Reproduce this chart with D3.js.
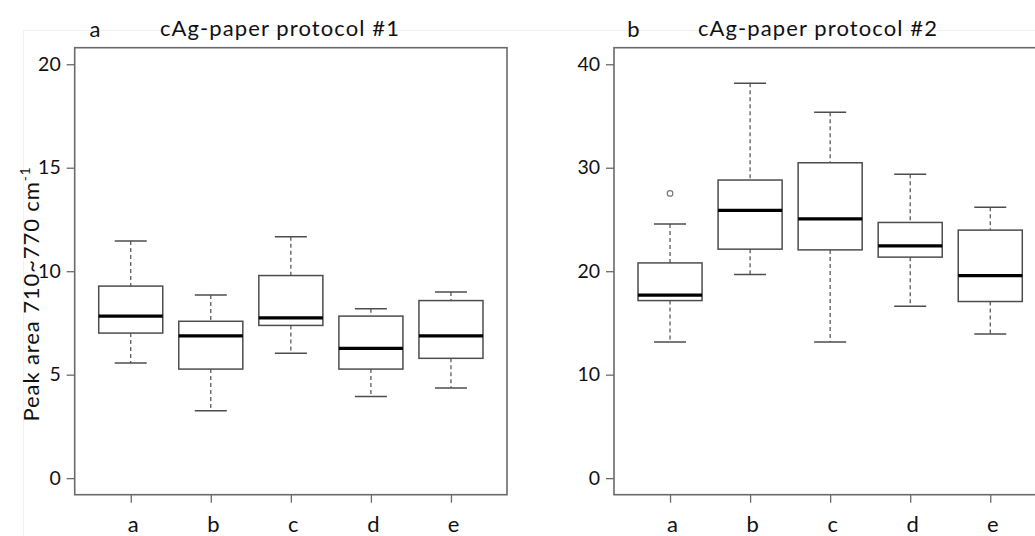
<!DOCTYPE html>
<html>
<head>
<meta charset="utf-8">
<script src="https://cdn.jsdelivr.net/npm/d3@7"></script>
<style>
  html, body { margin: 0; padding: 0; background: #fff; }
  svg { display: block; }
  text { font-family: Lato, "Open Sans", sans-serif; fill: #111; }
</style>
</head>
<body>
<svg id="chart" width="1035" height="536"></svg>
<script>
// ---------- data ----------
const categories = ["a", "b", "c", "d", "e"];

// Panel a: cAg-paper protocol #1
const p1LowWhisker = [5.56, 3.26, 6.04, 3.95, 4.35];
const p1Q1         = [7.01, 5.27, 7.38, 5.27, 5.79];
const p1Median     = [7.83, 6.87, 7.74, 6.27, 6.87];
const p1Q3         = [9.28, 7.58, 9.79, 7.83, 8.58];
const p1HighWhisker= [11.46, 8.85, 11.67, 8.19, 8.99];
const p1Outliers   = [[], [], [], [], []];
const p1Ticks      = [0, 5, 10, 15, 20];

// Panel b: cAg-paper protocol #2
const p2LowWhisker = [13.16, 19.68, 13.16, 16.61, 13.93];
const p2Q1         = [17.16, 22.13, 22.06, 21.36, 17.07];
const p2Median     = [17.68, 25.87, 25.06, 22.45, 19.58];
const p2Q3         = [20.80, 28.81, 30.48, 24.71, 23.97];
const p2HighWhisker= [24.55, 38.16, 35.35, 29.36, 26.19];
const p2Outliers   = [[27.52], [], [], [], []];
const p2Ticks      = [0, 10, 20, 30, 40];

const titles = ["cAg-paper protocol #1", "cAg-paper protocol #2"];
const panelLabels = ["a", "b"];
const yLabel = "Peak area 710~770 cm";
const yLabelSup = "-1";

// ---------- drawing ----------
(function () {
const svg = d3.select("#chart");
const FS_TICK = 19.5;
const FS_CAT = 22;
const FS_TITLE = 22;
const TXT = "#111";

// faint outer border from original scan
svg.append("line").attr("x1", 23).attr("x2", 1035).attr("y1", 30.5).attr("y2", 30.5)
   .attr("stroke", "#f1f1f1").attr("stroke-width", 1);
svg.append("line").attr("x1", 23.5).attr("x2", 23.5).attr("y1", 30).attr("y2", 536)
   .attr("stroke", "#f1f1f1").attr("stroke-width", 1);

const panels = [
  { left: 74.7, right: 507, yMax: 20, ticks: p1Ticks,
    lo: p1LowWhisker, q1: p1Q1, med: p1Median, q3: p1Q3, hi: p1HighWhisker, out: p1Outliers,
    titleX: 280, labelX: 95 },
  { left: 614, right: 1046.3, yMax: 40, ticks: p2Ticks,
    lo: p2LowWhisker, q1: p2Q1, med: p2Median, q3: p2Q3, hi: p2HighWhisker, out: p2Outliers,
    titleX: 818, labelX: 633.5 }
];

const plotTop = 47.7, plotBottom = 494.7;
const boxColor = "#4d4d4d";
const frameColor = "#6a6a6a";

panels.forEach((p, pi) => {
  const ext = p.yMax * 0.04;
  const x = d3.scaleLinear().domain([0.3, categories.length + 0.7]).range([p.left, p.right]);
  const y = d3.scaleLinear().domain([-ext, p.yMax + ext]).range([plotBottom, plotTop]);
  const g = svg.append("g");

  const data = categories.map((c, i) => ({
    c, i, lo: p.lo[i], q1: p.q1[i], med: p.med[i], q3: p.q3[i], hi: p.hi[i], out: p.out[i]
  }));

  const bw = x(1.4) - x(1);   // half box width (0.4 units)
  const sw = x(1.2) - x(1);   // half staple width

  const wg = g.selectAll(".wh").data(data).join("g");
  wg.append("line")
    .attr("x1", d => x(d.i + 1)).attr("x2", d => x(d.i + 1))
    .attr("y1", d => y(d.hi)).attr("y2", d => y(d.q3))
    .attr("stroke", boxColor).attr("stroke-width", 1.2).attr("stroke-dasharray", "4,3");
  wg.append("line")
    .attr("x1", d => x(d.i + 1)).attr("x2", d => x(d.i + 1))
    .attr("y1", d => y(d.q1)).attr("y2", d => y(d.lo))
    .attr("stroke", boxColor).attr("stroke-width", 1.2).attr("stroke-dasharray", "4,3");
  wg.append("line")
    .attr("x1", d => x(d.i + 1) - sw).attr("x2", d => x(d.i + 1) + sw)
    .attr("y1", d => y(d.hi)).attr("y2", d => y(d.hi))
    .attr("stroke", boxColor).attr("stroke-width", 1.5);
  wg.append("line")
    .attr("x1", d => x(d.i + 1) - sw).attr("x2", d => x(d.i + 1) + sw)
    .attr("y1", d => y(d.lo)).attr("y2", d => y(d.lo))
    .attr("stroke", boxColor).attr("stroke-width", 1.5);
  wg.append("rect")
    .attr("x", d => x(d.i + 1) - bw).attr("width", 2 * bw)
    .attr("y", d => y(d.q3)).attr("height", d => y(d.q1) - y(d.q3))
    .attr("fill", "#fff").attr("stroke", boxColor).attr("stroke-width", 1.5);
  wg.append("line")
    .attr("x1", d => x(d.i + 1) - bw).attr("x2", d => x(d.i + 1) + bw)
    .attr("y1", d => y(d.med)).attr("y2", d => y(d.med))
    .attr("stroke", "#000").attr("stroke-width", 3.2);
  wg.selectAll("circle").data(d => d.out.map(v => ({ i: d.i, v }))).join("circle")
    .attr("cx", d => x(d.i + 1)).attr("cy", d => y(d.v)).attr("r", 2.8)
    .attr("fill", "none").attr("stroke", "#777").attr("stroke-width", 1.2);

  g.append("rect")
    .attr("x", p.left).attr("y", plotTop).attr("width", p.right - p.left).attr("height", plotBottom - plotTop)
    .attr("fill", "none").attr("stroke", frameColor).attr("stroke-width", 1.6);

  const ya = g.append("g").attr("transform", `translate(${p.left},0)`)
    .call(d3.axisLeft(y).tickValues(p.ticks).tickSize(8).tickPadding(6).tickFormat(d3.format("d")));
  ya.select(".domain").remove();
  ya.selectAll(".tick line").attr("stroke", frameColor).attr("stroke-width", 1.3);
  ya.selectAll(".tick text").attr("font-size", FS_TICK).attr("font-family", "Lato").attr("fill", TXT);

  const xa = g.append("g").attr("transform", `translate(0,${plotBottom})`)
    .call(d3.axisBottom(x).tickValues(d3.range(1, categories.length + 1)).tickSize(8).tickPadding(14)
      .tickFormat(d => categories[d - 1]));
  xa.select(".domain").remove();
  xa.selectAll(".tick line").attr("stroke", frameColor).attr("stroke-width", 1.3);
  xa.selectAll(".tick text").attr("font-size", FS_CAT).attr("font-family", "Lato").attr("fill", TXT)
    .attr("dx", 2);

  g.append("text").attr("x", p.titleX).attr("y", 36).attr("text-anchor", "middle")
    .attr("font-size", FS_TITLE).attr("letter-spacing", 1.1).text(titles[pi]);
  g.append("text").attr("x", p.labelX).attr("y", 37).attr("text-anchor", "middle")
    .attr("font-size", FS_CAT).text(panelLabels[pi]);
});

const yl = svg.append("text")
  .attr("transform", "translate(39,294) rotate(-90)")
  .attr("text-anchor", "middle")
  .attr("font-size", FS_TITLE)
  .attr("letter-spacing", 0.9);
yl.append("tspan").text(yLabel);
yl.append("tspan").attr("font-size", FS_TITLE * 0.62).attr("dy", -9).text(yLabelSup);
})();
</script>
</body>
</html>
